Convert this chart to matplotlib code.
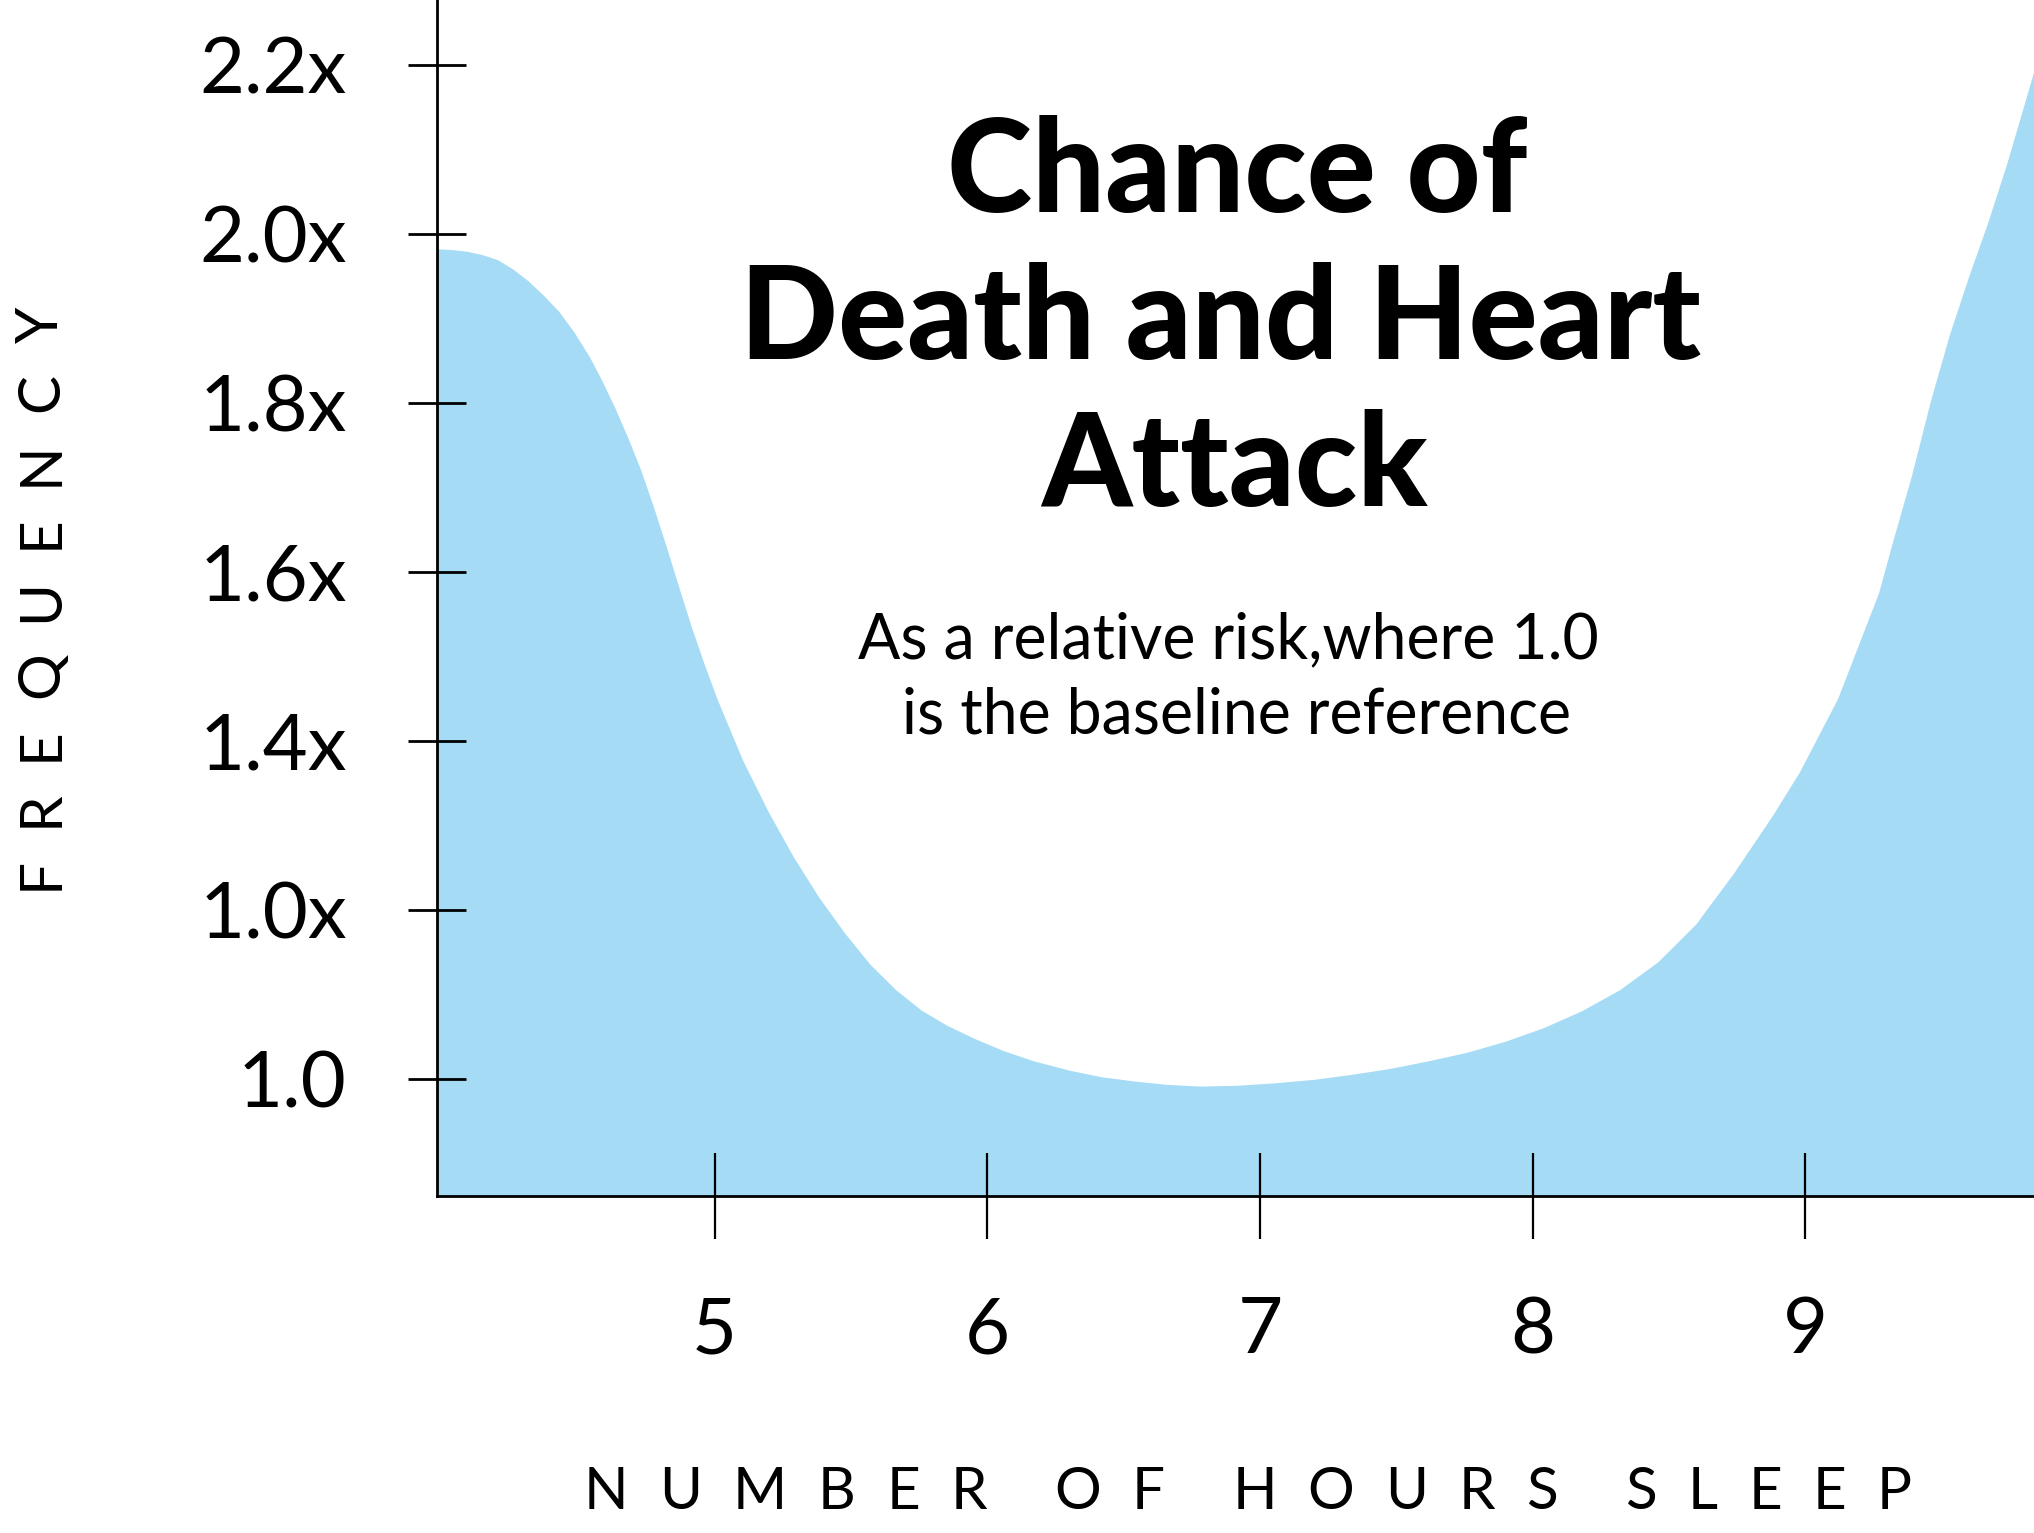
import matplotlib
matplotlib.use("Agg")
import matplotlib.pyplot as plt

# ---------------- data ----------------
hours = [3.982, 4.040, 4.094, 4.150, 4.206, 4.262, 4.318, 4.374, 4.430, 4.487,
         4.543, 4.590, 4.637, 4.684, 4.730, 4.777, 4.824, 4.870, 4.917, 4.964,
         5.011, 5.104, 5.198, 5.291, 5.385, 5.479, 5.572, 5.666, 5.759, 5.853,
         5.95, 6.06, 6.17, 6.30, 6.42, 6.54, 6.66, 6.78, 6.92, 7.06,
         7.20, 7.34, 7.48, 7.62, 7.76, 7.90, 8.04, 8.18, 8.32, 8.46,
         8.60, 8.74, 8.88, 8.98, 9.12, 9.27, 9.32, 9.39, 9.46, 9.53,
         9.60, 9.67, 9.74, 9.84]
risk = [1.982, 1.981, 1.979, 1.975, 1.969, 1.958, 1.944, 1.927, 1.908, 1.883,
        1.854, 1.825, 1.793, 1.758, 1.721, 1.677, 1.630, 1.582, 1.534, 1.490,
        1.449, 1.377, 1.316, 1.262, 1.214, 1.172, 1.135, 1.105, 1.081, 1.063,
        1.048, 1.033, 1.021, 1.010, 1.002, 0.997, 0.993, 0.991, 0.992, 0.995,
        0.999, 1.005, 1.012, 1.021, 1.031, 1.044, 1.060, 1.080, 1.105, 1.138,
        1.183, 1.244, 1.311, 1.363, 1.450, 1.575, 1.634, 1.713, 1.802, 1.881,
        1.949, 2.013, 2.083, 2.193]

x_ticks = [5, 6, 7, 8, 9]
x_tick_labels = ["5", "6", "7", "8", "9"]
y_ticks = [1.0, 1.2, 1.4, 1.6, 1.8, 2.0, 2.2]
y_tick_labels = ["1.0", "1.0x", "1.4x", "1.6x", "1.8x", "2.0x", "2.2x"]

title_lines = ["Chance of", "Death and Heart", "Attack"]
subtitle_lines = ["As a relative risk,where 1.0", "is the baseline reference"]
x_label = "NUMBER OF HOURS SLEEP"
y_label = "FREQUENCY"

# ---------------- figure ----------------
plt.rcParams["font.family"] = ["Lato", "DejaVu Sans"]
W, H = 2034, 1533
fig = plt.figure(figsize=(W / 100, H / 100), dpi=100)
fig.patch.set_facecolor("white")
ax = fig.add_axes([437 / W, 1 - 1196 / H, 1 - 437 / W, 1196 / H])
ax.set_facecolor("none")

ax.fill_between(hours, risk, 0, color="#A5DBF5", linewidth=0, zorder=1)
ax.set_xlim(3.982, 9.838)
ax.set_ylim(0.8615, 2.277)

for s in ["top", "right"]:
    ax.spines[s].set_visible(False)
for s in ["left", "bottom"]:
    ax.spines[s].set_linewidth(2.0)
    ax.spines[s].set_color("black")
    ax.spines[s].set_zorder(3)

ax.set_xticks(x_ticks, x_tick_labels)
ax.set_yticks(y_ticks, y_tick_labels)
ax.tick_params(axis="x", direction="inout", length=62.6, width=1.6, pad=40.7,
               labelsize=56, colors="black")
ax.tick_params(axis="y", direction="inout", length=41.8, width=2.0, pad=44,
               labelsize=56, colors="black")

renderer = fig.canvas.get_renderer()


def text_width(s, fontsize, **kw):
    t = fig.text(0, 0, s, fontsize=fontsize, **kw)
    w = t.get_window_extent(renderer).width
    t.remove()
    return w


def fit_size(s, target, **kw):
    base = 50
    return base * target / text_width(s, base, **kw)


# title
fs_title = fit_size(title_lines[1], 961, fontweight=900)
for line, base_y, cx in zip(title_lines, [212, 359, 506], [1237, 1220, 1234]):
    fig.text(cx / W, 1 - base_y / H, line, ha="center", va="baseline",
             fontsize=fs_title, fontweight=900, color="black")

# subtitle
fs_sub = fit_size(subtitle_lines[0], 741)
for line, base_y, cx in zip(subtitle_lines, [658, 733], [1228, 1236]):
    fig.text(cx / W, 1 - base_y / H, line, ha="center", va="baseline",
             fontsize=fs_sub, color="black")


def tracked(s, start, total, fontsize, fixed, vertical=False, word_ratio=2.2):
    chars = list(s)
    widths = [0 if c == " " else text_width(c, fontsize) for c in chars]
    n_in = n_word = 0
    for i in range(len(chars) - 1):
        if chars[i] == " ":
            continue
        if chars[i + 1] == " ":
            n_word += 1
        else:
            n_in += 1
    g = (total - sum(widths)) / (n_in + word_ratio * n_word)
    pos = start
    for i, c in enumerate(chars):
        if c == " ":
            continue
        if vertical:
            fig.text(fixed / W, pos / H, c, rotation=90, rotation_mode="anchor",
                     ha="left", va="baseline", fontsize=fontsize, color="black")
        else:
            fig.text(pos / W, fixed / H, c, ha="left", va="baseline",
                     fontsize=fontsize, color="black")
        pos += widths[i]
        if i + 1 < len(chars):
            pos += word_ratio * g if chars[i + 1] == " " else g


tracked(x_label, 584, 1912 - 584, 42, H - 1509)
tracked(y_label, H - 890, 890 - 307, 42, 58, vertical=True)

fig.savefig("out.png", dpi=100, facecolor="white")
